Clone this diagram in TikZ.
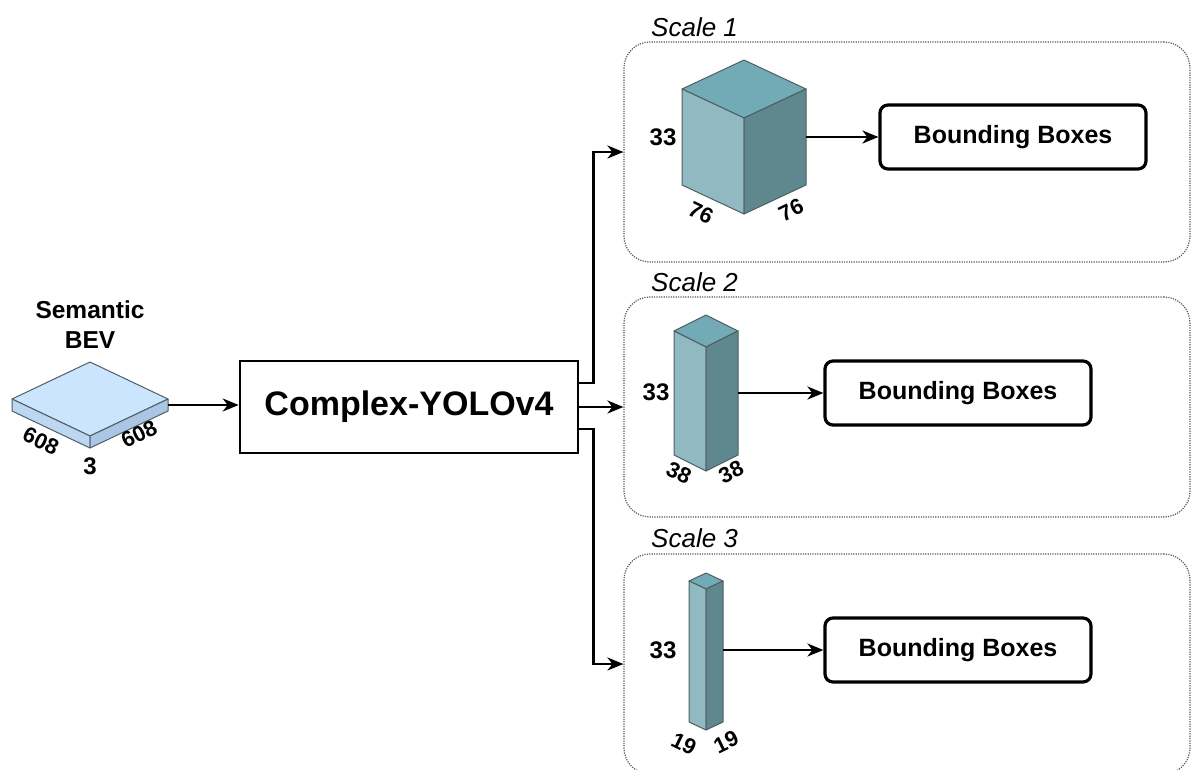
\documentclass[tikz,border=0pt]{standalone}
\usepackage{fontspec}
\setmainfont{Liberation Sans}
\usepackage{xcolor}
\definecolor{cubetop}{HTML}{72AAB5}
\definecolor{cubeleft}{HTML}{90B9C1}
\definecolor{cuberight}{HTML}{5E888D}
\definecolor{bevtop}{HTML}{CCE5FF}
\definecolor{bevleft}{HTML}{BDD7F2}
\definecolor{bevright}{HTML}{AAC6E4}
\definecolor{faceink}{HTML}{4F5F63}
\usepackage{tikz}
\usetikzlibrary{arrows.meta,positioning,calc}
\tikzset{
  >={Stealth[length=16pt,width=13pt,inset=5pt]},
  flow/.style    ={->,draw=black,line width=2.4pt},
  faceline/.style={draw=faceink,line width=1pt,line join=round},
  netbox/.style  ={draw=black,line width=2.6pt,minimum width=338pt,minimum height=92pt,
                   font=\fontsize{34}{40}\selectfont\bfseries},
  bbox/.style    ={draw=black,line width=3.2pt,rounded corners=8pt,minimum width=266pt,
                   minimum height=64pt,font=\fontsize{25}{28}\selectfont\bfseries},
  scalebox/.style={draw=black!65,line width=1.2pt,dash pattern=on 1.2pt off 1.2pt,
                   rounded corners=26pt,minimum width=566pt,minimum height=220pt},
  scalelbl/.style={font=\fontsize{26}{30}\selectfont\itshape,anchor=west,inner sep=0pt},
  lbl/.style     ={font=\fontsize{24}{27}\selectfont\bfseries,inner sep=0pt},
  dimlbl/.style  ={font=\fontsize{22}{26}\selectfont\bfseries,inner sep=0pt},
}
% #1 colour prefix, #2 centre x, #3 half width, #4 top y, #5 depth, #6 height
\newcommand{\featbox}[6]{%
  \filldraw[fill=#1top,faceline] ({#2-#3},{#4+#5}) -- (#2,#4) -- ({#2+#3},{#4+#5}) -- (#2,{#4+2*#5}) -- cycle;
  \filldraw[fill=#1left,faceline] ({#2-#3},{#4+#5}) -- (#2,{#4+2*#5}) -- (#2,{#4+2*#5+#6}) -- ({#2-#3},{#4+#5+#6}) -- cycle;
  \filldraw[fill=#1right,faceline] (#2,{#4+2*#5}) -- ({#2+#3},{#4+#5}) -- ({#2+#3},{#4+#5+#6}) -- (#2,{#4+2*#5+#6}) -- cycle;
}

\begin{document}
\begin{tikzpicture}[x=1pt,y=-1pt]
\useasboundingbox (0,0) rectangle (1192,769);
\clip (0,0) rectangle (1192,769);
% input
\node[lbl,align=center,font=\fontsize{24.5}{30}\selectfont\bfseries] (title) at (90,325) {Semantic\\BEV};
\featbox{bev}{90}{78}{362}{37}{12}
\coordinate (bev) at (168,405);
\node[dimlbl,rotate=-26] at (41,441) {608};
\node[dimlbl,rotate=26] at (139,434) {608};
\node[lbl] at (90,466) {3};
% network
\node[netbox] (yolo) at (409,407) {Complex-YOLOv4};
\draw[flow] (bev) -- (bev -| yolo.west);
% scales
\node[scalebox] (sc1) at (907,152) {};
\node[scalebox] (sc2) at (907,407) {};
\node[scalebox] (sc3) at (907,664) {};
\node[scalelbl] at (651,27) {Scale 1};
\node[scalelbl] at (651,282) {Scale 2};
\node[scalelbl] at (651,538) {Scale 3};
\draw[flow] ([yshift=24pt]yolo.east) -- ++(14,0) |- (sc1.west);
\draw[flow] (yolo.east) -- (sc2.west);
\draw[flow] ([yshift=-22pt]yolo.east) -- ++(14,0) |- (sc3.west);
% scale 1
\featbox{cube}{744}{62}{60}{29}{96}
\coordinate (f1) at (806,137);
\node[lbl] at (663,137) {33};
\node[dimlbl,rotate=-26] at (701,213) {76};
\node[dimlbl,rotate=26] at (791,210) {76};
\node[bbox] (bb1) at (1013,137) {Bounding Boxes};
\draw[flow] (f1) -- (bb1.west);
% scale 2
\featbox{cube}{706}{32}{315}{16}{124}
\coordinate (f2) at (738,393);
\node[lbl] at (656,392) {33};
\node[dimlbl,rotate=-26] at (679,473) {38};
\node[dimlbl,rotate=26] at (731,472) {38};
\node[bbox] (bb2) at (958,393) {Bounding Boxes};
\draw[flow] (f2) -- (bb2.west);
% scale 3
\featbox{cube}{706}{17}{573}{8}{141}
\coordinate (f3) at (723,650);
\node[lbl] at (663,650) {33};
\node[dimlbl,rotate=-26] at (684,744) {19};
\node[dimlbl,rotate=26] at (726,742) {19};
\node[bbox] (bb3) at (958,650) {Bounding Boxes};
\draw[flow] (f3) -- (bb3.west);
\end{tikzpicture}
\end{document}
